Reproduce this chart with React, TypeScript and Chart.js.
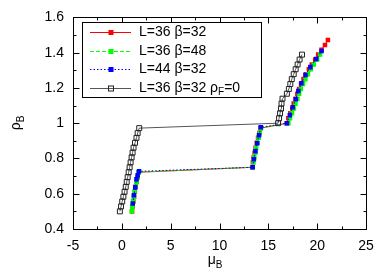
import React, { useEffect, useRef } from "react";
import { Chart, registerables } from "chart.js";

Chart.register(...registerables);

const FONT = "'Liberation Sans', Arial, sans-serif";

const xTicks = [-5, 0, 5, 10, 15, 20, 25];
const xMinorTicks = [-2.5, 2.5, 7.5, 12.5, 17.5, 22.5];
const yTicks = [0.4, 0.6, 0.8, 1.0, 1.2, 1.4, 1.6];
const yMinorTicks = [0.5, 0.7, 0.9, 1.1, 1.3, 1.5];

const seriesNames = ["L=36 β=32", "L=36 β=48", "L=44 β=32", "L=36 β=32 ρ|F|=0"];

// L=36 beta=32
const redMu = [1.05, 1.1, 1.18, 1.25, 1.33, 1.42, 1.52, 1.62, 1.73,
  13.35, 13.42, 13.5, 13.6, 13.7, 13.82, 13.95, 14.08, 14.2,
  16.9, 17.05, 17.25, 17.45, 17.6, 17.8, 17.97, 18.15, 18.35, 18.6, 18.85, 19.15, 19.45, 19.8, 20.1, 20.45, 20.8, 21.1];
const redRho = [0.5, 0.528, 0.556, 0.583, 0.611, 0.639, 0.667, 0.694, 0.722,
  0.75, 0.778, 0.806, 0.833, 0.861, 0.889, 0.917, 0.944, 0.972,
  1.0, 1.028, 1.056, 1.083, 1.111, 1.139, 1.167, 1.194, 1.222, 1.25, 1.278, 1.306, 1.333, 1.361, 1.389, 1.417, 1.444, 1.472];

// L=36 beta=48
const greenMu = [1.02, 1.08, 1.15, 1.23, 1.31, 1.4, 1.5, 1.6, 1.71,
  13.4, 13.48, 13.56, 13.66, 13.76, 13.88, 14.0, 14.12, 14.25,
  17.05, 17.22, 17.42, 17.62, 17.78, 17.98, 18.15, 18.33, 18.55, 18.8, 19.05, 19.35, 19.65, 20.0, 20.3];
const greenRho = [0.5, 0.528, 0.556, 0.583, 0.611, 0.639, 0.667, 0.694, 0.722,
  0.75, 0.778, 0.806, 0.833, 0.861, 0.889, 0.917, 0.944, 0.972,
  1.0, 1.028, 1.056, 1.083, 1.111, 1.139, 1.167, 1.194, 1.222, 1.25, 1.278, 1.306, 1.333, 1.361, 1.389];

// L=44 beta=32
const blueMu = [1.12, 1.24, 1.37, 1.5, 1.62, 1.76,
  13.4, 13.52, 13.68, 13.86, 14.05, 14.23,
  16.9, 17.2, 17.5, 17.8, 18.07, 18.38, 18.8, 19.3, 19.9, 20.45];
const blueRho = [0.545, 0.591, 0.636, 0.682, 0.705, 0.727,
  0.75, 0.795, 0.841, 0.886, 0.932, 0.977,
  1.0, 1.045, 1.091, 1.136, 1.182, 1.227, 1.273, 1.318, 1.364, 1.409];

// L=36 beta=32 rho_F=0
const blackMu = [-0.2, -0.08, 0.04, 0.16, 0.28, 0.4, 0.5, 0.6, 0.7, 0.8, 0.9, 1.0, 1.1, 1.2, 1.35, 1.5, 1.62, 1.78,
  16.0, 16.1, 16.2, 16.3, 16.35, 16.45, 16.9, 17.1, 17.25, 17.4, 17.6, 17.8, 18.0, 18.2, 18.45];
const blackRho = [0.5, 0.528, 0.556, 0.583, 0.611, 0.639, 0.667, 0.694, 0.722, 0.75, 0.778, 0.806, 0.833, 0.861, 0.889, 0.917, 0.944, 0.972,
  1.0, 1.028, 1.056, 1.083, 1.111, 1.139, 1.167, 1.194, 1.222, 1.25, 1.278, 1.306, 1.333, 1.361, 1.389];

const zip = (xs: number[], ys: number[]) => xs.map((x, i) => ({ x, y: ys[i] }));

type Style = { line: string; point: string; fill: string; dash: number[] };
const styles: Style[] = [
  { line: "#ff0000", point: "#ff0000", fill: "#ff0000", dash: [] },
  { line: "#00ff00", point: "#00ff00", fill: "#00ff00", dash: [4, 2] },
  { line: "#0000ff", point: "#0000ff", fill: "#0000ff", dash: [1.5, 2] },
  { line: "#555555", point: "#222222", fill: "rgba(0,0,0,0)", dash: [] },
];

function drawSubText(ctx: CanvasRenderingContext2D, text: string, x: number, y: number, size: number, measureOnly = false) {
  const parts = text.split("|");
  let cx = x;
  parts.forEach((p, i) => {
    const sub = i % 2 === 1;
    ctx.font = `${sub ? Math.round(size * 0.72) : size}px ${FONT}`;
    if (!measureOnly) ctx.fillText(p, cx, y + (sub ? size * 0.28 : 0));
    cx += ctx.measureText(p).width;
  });
  return cx - x;
}

const decor = {
  id: "decor",
  afterDraw(chart: any) {
    const { ctx, chartArea: a, scales } = chart;
    const xs = scales.x, ys = scales.y;
    ctx.save();
    ctx.strokeStyle = "#000";
    ctx.lineWidth = 1;
    ctx.setLineDash([]);
    const L = Math.round(a.left) + 0.5, R = Math.round(a.right) + 0.5;
    const T = Math.round(a.top) + 0.5, B = Math.round(a.bottom) + 0.5;
    const seg = (x1: number, y1: number, x2: number, y2: number) => {
      ctx.beginPath(); ctx.moveTo(x1, y1); ctx.lineTo(x2, y2); ctx.stroke();
    };
    const xt = (v: number, len: number) => {
      const p = Math.round(xs.getPixelForValue(v)) + 0.5;
      seg(p, B, p, B - len); seg(p, T, p, T + len);
    };
    const yt = (v: number, len: number) => {
      const p = Math.round(ys.getPixelForValue(v)) + 0.5;
      seg(L, p, L + len, p); seg(R, p, R - len, p);
    };
    xTicks.forEach((v) => xt(v, 6));
    xMinorTicks.forEach((v) => xt(v, 3));
    yTicks.forEach((v) => yt(v, 6));
    yMinorTicks.forEach((v) => yt(v, 3));
    ctx.strokeRect(L, T, R - L, B - T);

    // legend
    const lx = 82.5, ly = 22.5, lw = 179, lh = 75;
    ctx.fillStyle = "#fff";
    ctx.fillRect(lx, ly, lw, lh);
    ctx.strokeStyle = "#000";
    ctx.strokeRect(lx, ly, lw, lh);
    seriesNames.forEach((name, i) => {
      const s = styles[i];
      const y = Math.round(32 + i * 18.5) + 0.5;
      ctx.strokeStyle = s.line;
      ctx.setLineDash(s.dash);
      seg(90, y, 131, y);
      ctx.setLineDash([]);
      const sz = 5;
      if (i === 3) {
        ctx.strokeStyle = s.point;
        ctx.strokeRect(111 - sz / 2, y - sz / 2, sz, sz);
      } else {
        ctx.fillStyle = s.fill;
        ctx.fillRect(111 - sz / 2, y - sz / 2, sz, sz);
      }
      ctx.fillStyle = "#000";
      ctx.textBaseline = "middle";
      ctx.textAlign = "left";
      drawSubText(ctx, name, 139, y, 14);
    });

    // axis titles
    ctx.fillStyle = "#000";
    ctx.textBaseline = "alphabetic";
    ctx.textAlign = "left";
    const xw = drawSubText(ctx, "μ|B|", 0, 0, 14, true);
    drawSubText(ctx, "μ|B|", 215 - xw / 2, 264, 14);
    ctx.save();
    ctx.translate(20, 123);
    ctx.rotate(-Math.PI / 2);
    const yw = drawSubText(ctx, "ρ|B|", 0, 0, 14, true);
    drawSubText(ctx, "ρ|B|", -yw / 2, 0, 14);
    ctx.restore();
    ctx.restore();
  },
};

export default function App() {
  const ref = useRef<HTMLCanvasElement | null>(null);
  useEffect(() => {
    document.body.style.margin = "0";
    const data = [zip(redMu, redRho), zip(greenMu, greenRho), zip(blueMu, blueRho), zip(blackMu, blackRho)];
    const chart = new Chart(ref.current as HTMLCanvasElement, {
      type: "line",
      data: {
        datasets: data.map((d, i) => ({
          label: seriesNames[i],
          data: d,
          borderColor: styles[i].line,
          borderWidth: 1,
          borderDash: styles[i].dash,
          pointStyle: "rect",
          pointRadius: i === 3 ? 3.5 : 3.2,
          pointBorderWidth: i === 3 ? 1 : 0,
          pointBorderColor: styles[i].point,
          pointBackgroundColor: i === 3 ? "rgba(0,0,0,0)" : styles[i].fill,
          tension: 0,
          order: 3 - i,
        })),
      },
      options: {
        animation: false,
        responsive: false,
        events: [],
        layout: { padding: { top: 17, right: 24, left: 0, bottom: 0 } },
        plugins: { legend: { display: false }, tooltip: { enabled: false }, title: { display: false } },
        scales: {
          x: {
            type: "linear",
            min: -5,
            max: 25,
            afterBuildTicks: (s: any) => { s.ticks = xTicks.map((v) => ({ value: v })); },
            afterFit: (s: any) => { s.height = 44; },
            grid: { display: false, drawTicks: false },
            border: { display: false },
            ticks: { padding: 9, color: "#000", font: { family: FONT, size: 14 }, maxRotation: 0, autoSkip: false, callback: (v: any) => String(v) },
          },
          y: {
            type: "linear",
            min: 0.4,
            max: 1.6,
            afterBuildTicks: (s: any) => { s.ticks = yTicks.map((v) => ({ value: v })); },
            afterFit: (s: any) => { s.width = 73; },
            grid: { display: false, drawTicks: false },
            border: { display: false },
            ticks: { padding: 9, color: "#000", font: { family: FONT, size: 14 }, autoSkip: false, callback: (v: any) => String(Number(Number(v).toFixed(1))) },
          },
        },
      },
      plugins: [decor],
    } as any);
    return () => chart.destroy();
  }, []);
  return (
    <div style={{ width: 390, height: 273 }}>
      <canvas ref={ref} width={390} height={273} />
    </div>
  );
}
